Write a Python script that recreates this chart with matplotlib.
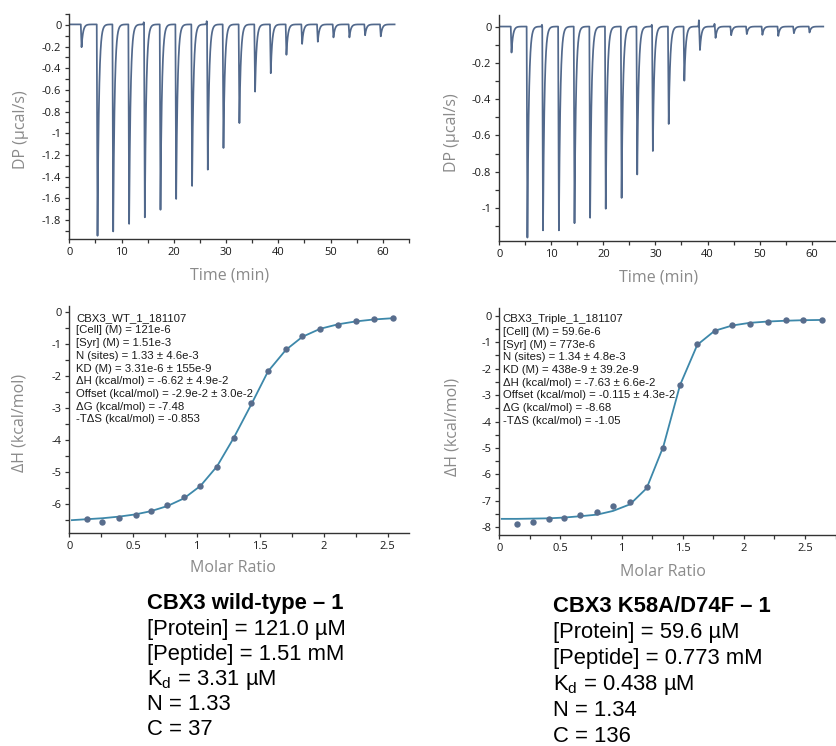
import numpy as np
import matplotlib
matplotlib.use("Agg")
import matplotlib.pyplot as plt
from matplotlib.ticker import MultipleLocator, FuncFormatter

# ---------------- data ----------------
# injection times (min) and peak minima of the raw thermograms (µcal/s)
inj_time = [2.2, 5.25, 8.25, 11.3, 14.3, 17.3, 20.3, 23.35, 26.35, 29.35,
            32.4, 35.4, 38.4, 41.4, 44.4, 47.4, 50.4, 53.45, 56.45, 59.45]
wt_peak = [-0.21, -1.95, -1.91, -1.84, -1.78, -1.71, -1.61, -1.49, -1.34, -1.14,
           -0.91, -0.62, -0.45, -0.28, -0.18, -0.16, -0.12, -0.12, -0.10, -0.11]
wt_spike = [0, 0, 0, 0, 0.02, 0, 0, 0, 0.03, 0, 0, 0, 0, 0, 0, 0, 0, 0, 0, 0]
tr_peak = [-0.144, -1.17, -1.13, -1.13, -1.09, -1.06, -1.01, -0.95, -0.82, -0.69,
           -0.54, -0.30, -0.13, -0.063, -0.048, -0.042, -0.046, -0.052, -0.037, -0.033]
tr_spike = [0, 0, 0.01, 0, 0, 0, 0, 0, 0, 0.01, 0, 0, 0.035, 0.015, 0, 0, 0, 0, 0, 0]

# integrated heats (kcal/mol) vs molar ratio, with fitted curve
wt_ratio = [0.14, 0.26, 0.39, 0.52, 0.64, 0.77, 0.90, 1.03, 1.16, 1.29,
            1.43, 1.56, 1.70, 1.83, 1.97, 2.11, 2.25, 2.39, 2.54]
wt_dh = [-6.46, -6.57, -6.42, -6.35, -6.20, -6.02, -5.77, -5.42, -4.84, -3.93,
         -2.86, -1.84, -1.17, -0.77, -0.53, -0.40, -0.30, -0.24, -0.20]
wt_fit_ratio = [0.02] + wt_ratio
wt_fit = [-6.50, -6.47, -6.44, -6.39, -6.32, -6.22, -6.06, -5.82, -5.43, -4.82,
          -3.94, -2.88, -1.86, -1.19, -0.78, -0.53, -0.39, -0.30, -0.24, -0.20]

tr_ratio = [0.145, 0.273, 0.403, 0.532, 0.662, 0.799, 0.930, 1.069, 1.205, 1.341,
            1.478, 1.619, 1.761, 1.905, 2.047, 2.195, 2.342, 2.486, 2.639]
tr_dh = [-7.88, -7.81, -7.67, -7.63, -7.54, -7.42, -7.20, -7.03, -6.47, -5.01,
         -2.62, -1.07, -0.58, -0.36, -0.30, -0.23, -0.16, -0.17, -0.16]
tr_fit_ratio = [0.02] + tr_ratio
tr_fit = [-7.68, -7.68, -7.67, -7.66, -7.63, -7.58, -7.52, -7.38, -7.13, -6.52,
          -4.95, -2.62, -1.10, -0.57, -0.37, -0.27, -0.22, -0.19, -0.17, -0.16]

wt_params = ["CBX3_WT_1_181107",
             "[Cell] (M) = 121e-6",
             "[Syr] (M) = 1.51e-3",
             "N (sites) = 1.33 ± 4.6e-3",
             "KD (M) = 3.31e-6 ± 155e-9",
             "ΔH (kcal/mol) = -6.62 ± 4.9e-2",
             "Offset (kcal/mol) = -2.9e-2 ± 3.0e-2",
             "ΔG (kcal/mol) = -7.48",
             "-TΔS (kcal/mol) = -0.853"]
tr_params = ["CBX3_Triple_1_181107",
             "[Cell] (M) = 59.6e-6",
             "[Syr] (M) = 773e-6",
             "N (sites) = 1.34 ± 4.8e-3",
             "KD (M) = 438e-9 ± 39.2e-9",
             "ΔH (kcal/mol) = -7.63 ± 6.6e-2",
             "Offset (kcal/mol) = -0.115 ± 4.3e-2",
             "ΔG (kcal/mol) = -8.68",
             "-TΔS (kcal/mol) = -1.05"]

wt_summary = ["CBX3 wild-type – 1", "[Protein] = 121.0 µM", "[Peptide] = 1.51 mM",
              "K$_\\mathrm{d}$ = 3.31 µM", "N = 1.33", "C = 37"]
tr_summary = ["CBX3 K58A/D74F – 1", "[Protein] = 59.6 µM", "[Peptide] = 0.773 mM",
              "K$_\\mathrm{d}$ = 0.438 µM", "N = 1.34", "C = 136"]

# ---------------- style ----------------
W, H = 836, 746
TRACE = "#52698c"
POINT = "#586d8d"
FIT = "#3d88aa"
LABEL_GRAY = "#8a8a8a"
TICK_FONT = "Open Sans"
BOX_FONT = "Liberation Sans"

plt.rcParams["axes.unicode_minus"] = False
plt.rcParams["mathtext.fontset"] = "custom"
plt.rcParams["mathtext.rm"] = BOX_FONT
plt.rcParams["mathtext.it"] = BOX_FONT + ":italic"

fig = plt.figure(figsize=(W / 100, H / 100), dpi=100)


def axes_px(left, top, right, bottom):
    return fig.add_axes([left / W, 1 - bottom / H, (right - left) / W, (bottom - top) / H])


def fmt(v, pos):
    s = "%g" % round(v, 6)
    return "0" if s in ("-0", "0") else s


def style(ax, xmaj, xmin, ymaj, ymin):
    for s in ("top", "right"):
        ax.spines[s].set_visible(False)
    for s in ("left", "bottom"):
        ax.spines[s].set_color("#333333")
        ax.spines[s].set_linewidth(1.0)
    ax.xaxis.set_major_locator(MultipleLocator(xmaj))
    ax.xaxis.set_minor_locator(MultipleLocator(xmin))
    ax.yaxis.set_major_locator(MultipleLocator(ymaj))
    ax.yaxis.set_minor_locator(MultipleLocator(ymin))
    ax.xaxis.set_major_formatter(FuncFormatter(fmt))
    ax.yaxis.set_major_formatter(FuncFormatter(fmt))
    ax.tick_params(which="both", direction="out", color="#333333", width=0.9,
                   labelsize=8, labelcolor="#1a1a1a", pad=2.5)
    ax.tick_params(which="major", length=3.2)
    ax.tick_params(which="minor", length=3.0)
    for lab in ax.get_xticklabels() + ax.get_yticklabels():
        lab.set_fontfamily(TICK_FONT)
    ax.set_facecolor("none")


def thermogram(times, peaks, spikes):
    t = np.arange(0.25, 62.25, 0.005)
    y = np.full_like(t, 0.004)
    drop, tau = 0.15, 0.28
    for t0, depth, sp in zip(times, peaks, spikes):
        dt = t - t0
        fall = (dt >= 0) & (dt < drop)
        y[fall] += depth * dt[fall] / drop
        rec = dt >= drop
        y[rec] += depth * np.exp(-(dt[rec] - drop) / tau)
        if sp:
            y += sp * np.exp(-((dt + 0.06) / 0.04) ** 2)
    return t, y


def axis_label(x, y, text, rot=0):
    fig.text(x / W, 1 - y / H, text, rotation=rot, ha="center", va="center",
             fontsize=11.5, color=LABEL_GRAY, family=TICK_FONT)


# ---------------- top-left: WT thermogram ----------------
ax1 = axes_px(69.3, 14, 409, 239)
t, y = thermogram(inj_time, wt_peak, wt_spike)
ax1.plot(t, y, color=TRACE, lw=1.25)
ax1.set_xlim(0, 65)
ax1.set_ylim(-1.976, 0.1)
style(ax1, 10, 5, 0.2, 0.1)
axis_label(21, 130, "DP (µcal/s)", 90)
axis_label(230, 276, "Time (min)")

# ---------------- top-right: mutant thermogram ----------------
ax2 = axes_px(499.3, 15, 499.3 + 65 * 5.205, 241)
t, y = thermogram(inj_time, tr_peak, tr_spike)
ax2.plot(t, y, color=TRACE, lw=1.25)
ax2.set_xlim(0, 65)
ax2.set_ylim(-1.185, 0.068)
style(ax2, 10, 5, 0.2, 0.1)
axis_label(452, 133, "DP (µcal/s)", 90)
axis_label(659, 277, "Time (min)")

# ---------------- bottom-left: WT binding isotherm ----------------
ax3 = axes_px(69.3, 305.7, 409, 533.3)
ax3.plot(wt_fit_ratio, wt_fit, color=FIT, lw=1.3, zorder=2)
ax3.plot(wt_ratio, wt_dh, "o", color=POINT, ms=4.6, mec="none", zorder=3)
ax3.set_xlim(0, 2.667)
ax3.set_ylim(-6.91, 0.19)
style(ax3, 0.5, 0.25, 1, 0.5)
axis_label(20, 423, "ΔH (kcal/mol)", 90)
axis_label(233, 568, "Molar Ratio")
for i, line in enumerate(wt_params):
    fig.text(76 / W, 1 - (320.7 + i * 12.7) / H, line, fontsize=8.2,
             family=BOX_FONT, color="#1a1a1a", va="baseline", ha="left")

# ---------------- bottom-right: mutant binding isotherm ----------------
ax4 = axes_px(499.3, 308.3, 499.3 + 2.75 * 122.3, 535)
ax4.plot(tr_fit_ratio, tr_fit, color=FIT, lw=1.3, zorder=2)
ax4.plot(tr_ratio, tr_dh, "o", color=POINT, ms=4.6, mec="none", zorder=3)
ax4.set_xlim(0, 2.75)
ax4.set_ylim(-8.29, 0.28)
style(ax4, 0.5, 0.25, 1, 0.5)
axis_label(452, 427, "ΔH (kcal/mol)", 90)
axis_label(663, 572, "Molar Ratio")
for i, line in enumerate(tr_params):
    fig.text(502.7 / W, 1 - (322.3 + i * 12.65) / H, line, fontsize=8.2,
             family=BOX_FONT, color="#1a1a1a", va="baseline", ha="left")

# ---------------- summary captions ----------------
for i, line in enumerate(wt_summary):
    fig.text(147.3 / W, 1 - (609.3 + i * 25.2) / H, line, fontsize=15.8,
             family=BOX_FONT, color="black", va="baseline", ha="left",
             fontweight="bold" if i == 0 else "normal")
for i, line in enumerate(tr_summary):
    fig.text(553.3 / W, 1 - (612.3 + i * 25.9) / H, line, fontsize=15.8,
             family=BOX_FONT, color="black", va="baseline", ha="left",
             fontweight="bold" if i == 0 else "normal")

fig.savefig("out.png", dpi=100)
